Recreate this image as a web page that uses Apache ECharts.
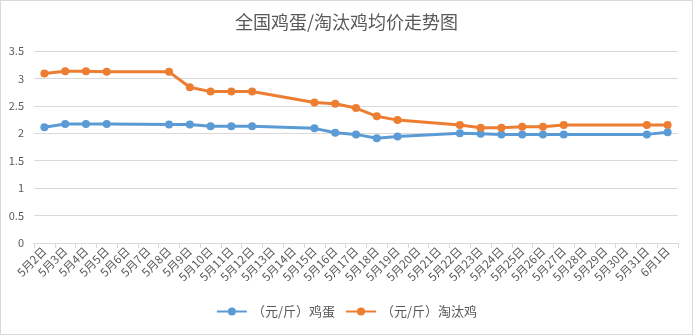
<!DOCTYPE html>
<html><head><meta charset="utf-8">
<script src="https://cdn.jsdelivr.net/npm/echarts@6/dist/echarts.min.js"></script>
<style>html,body{margin:0;padding:0;background:#fff;}
#c{position:absolute;left:0;top:0;width:691px;height:333px;border:1px solid #d9d9d9;}</style>
</head><body><div id="c"></div>
<script>
const categories = ['5月2日','5月3日','5月4日','5月5日','5月6日','5月7日','5月8日','5月9日','5月10日','5月11日','5月12日','5月13日','5月14日','5月15日','5月16日','5月17日','5月18日','5月19日','5月20日','5月21日','5月22日','5月23日','5月24日','5月25日','5月26日','5月27日','5月28日','5月29日','5月30日','5月31日','6月1日'];
const eggPrice = [2.11,2.17,2.17,2.17,null,null,2.16,2.16,2.13,2.13,2.13,null,null,2.09,2.01,1.98,1.91,1.94,null,null,2.00,1.99,1.98,1.98,1.98,1.98,null,null,null,1.98,2.02];
const henPrice = [3.09,3.13,3.13,3.12,null,null,3.12,2.84,2.76,2.76,2.76,null,null,2.56,2.54,2.46,2.31,2.24,null,null,2.15,2.10,2.10,2.12,2.12,2.15,null,null,null,2.15,2.15];
const seriesNames = ['（元/斤）鸡蛋','（元/斤）淘汰鸡'];
const yTicks = {min:0, max:3.5, interval:0.5};
const font = '"Noto Sans CJK SC", "Microsoft YaHei", sans-serif';
const chart = echarts.init(document.getElementById('c'));
chart.setOption({
  animation:false,
  textStyle:{fontFamily:font},
  title:{text:'全国鸡蛋/淘汰鸡均价走势图',left:'center',top:7,textStyle:{fontSize:18,fontWeight:'normal',color:'#595959',fontFamily:font}},
  legend:{bottom:11,left:'center',itemWidth:30,itemHeight:10,itemGap:10,textStyle:{fontSize:13,color:'#595959'},data:seriesNames},
  grid:{left:33,right:14,top:50,bottom:91,containLabel:false},
  xAxis:{type:'category',data:categories,boundaryGap:true,
    axisLine:{lineStyle:{color:'#d9d9d9'}},
    axisTick:{show:true,length:5,lineStyle:{color:'#d9d9d9'}},
    axisLabel:{rotate:45,interval:0,fontSize:11.5,color:'#595959',margin:6}},
  yAxis:{type:'value',min:yTicks.min,max:yTicks.max,interval:yTicks.interval,
    axisLine:{show:false},axisTick:{show:false},
    axisLabel:{fontSize:11,color:'#595959',margin:10},
    splitLine:{lineStyle:{color:'#d9d9d9'}}},
  series:[
    {name:seriesNames[0],type:'line',data:eggPrice,connectNulls:true,symbol:'circle',symbolSize:8,
      lineStyle:{width:3,color:'#5B9BD5'},itemStyle:{color:'#5B9BD5'}},
    {name:seriesNames[1],type:'line',data:henPrice,connectNulls:true,symbol:'circle',symbolSize:8,
      lineStyle:{width:3,color:'#ED7D31'},itemStyle:{color:'#ED7D31'}}
  ]
});
</script></body></html>
